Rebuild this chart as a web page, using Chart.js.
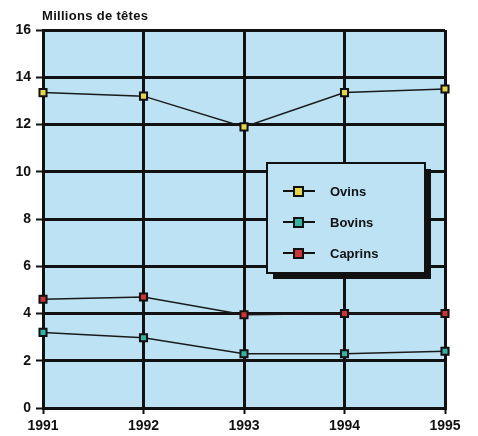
<!DOCTYPE html>
<html>
<head>
<meta charset="utf-8">
<script src="https://cdn.jsdelivr.net/npm/chart.js@4"></script>
<style>
  html, body { margin: 0; padding: 0; background: #fff; }
  #wrap { width: 478px; height: 436px; }
</style>
</head>
<body>
<div id="wrap"><canvas id="c" width="478" height="436"></canvas></div>
<script>
// data
const years = ['1991', '1992', '1993', '1994', '1995'];
const ovins = [13.35, 13.2, 11.9, 13.35, 13.5];
const bovins = [3.2, 2.97, 2.3, 2.3, 2.4];
const caprins = [4.6, 4.7, 3.95, 4.0, 4.0];
const yTicks = [0, 2, 4, 6, 8, 10, 12, 14, 16];

const seriesNames = ['Ovins', 'Bovins', 'Caprins'];
const seriesColors = ['#e6d640', '#35b3a2', '#cf3434'];

const FONT = "'Liberation Sans', Arial, sans-serif";

// plot background
const bgPlugin = {
    id: 'bg',
    beforeDraw(chart) {
        const a = chart.chartArea, ctx = chart.ctx;
        ctx.save();
        ctx.fillStyle = '#bde2f4';
        ctx.fillRect(a.left, a.top, a.right - a.left, a.bottom - a.top);
        ctx.restore();
    }
};

// title + boxed legend with shadow
const legendBox = {
    id: 'legendBox',
    afterDraw(chart) {
        const ctx = chart.ctx;
        ctx.save();
        ctx.fillStyle = '#111';
        ctx.font = 'bold 13px ' + FONT;
        ctx.textBaseline = 'alphabetic';
        ctx.letterSpacing = '0.3px';
        ctx.fillText('Millions de têtes', 42, 20);
        ctx.letterSpacing = '0px';

        const x = 267, y = 163, w = 158, h = 110;
        ctx.fillStyle = '#111';
        ctx.fillRect(x + 6, y + 6, w, h);
        ctx.fillStyle = '#bde2f4';
        ctx.fillRect(x, y, w, h);
        ctx.strokeStyle = '#111';
        ctx.lineWidth = 2;
        ctx.strokeRect(x, y, w, h);

        chart.data.datasets.forEach((ds, i) => {
            const cy = y + 28 + i * 31;
            ctx.strokeStyle = '#111';
            ctx.lineWidth = 2;
            ctx.beginPath();
            ctx.moveTo(x + 16, cy);
            ctx.lineTo(x + 48, cy);
            ctx.stroke();
            ctx.fillStyle = ds.backgroundColor;
            ctx.fillRect(x + 27, cy - 4, 9, 9);
            ctx.strokeRect(x + 27, cy - 4, 9, 9);
            ctx.fillStyle = '#111';
            ctx.font = 'bold 13px ' + FONT;
            ctx.textBaseline = 'middle';
            ctx.fillText(ds.label, x + 63, cy + 1);
        });
        ctx.restore();
    }
};

const makeSet = (i, values) => ({
    label: seriesNames[i],
    data: values,
    borderColor: '#1a1a1a',
    borderWidth: 1.5,
    backgroundColor: seriesColors[i],
    pointStyle: 'rect',
    pointRadius: 5,
    pointBorderColor: '#111',
    pointBorderWidth: 2,
    tension: 0
});

new Chart(document.getElementById('c'), {
    type: 'line',
    data: {
        labels: years,
        datasets: [makeSet(0, ovins), makeSet(1, bovins), makeSet(2, caprins)]
    },
    options: {
        responsive: false,
        animation: false,
        layout: { padding: { top: 30, right: 33, left: 0, bottom: 0 } },
        plugins: {
            legend: { display: false },
            tooltip: { enabled: false }
        },
        scales: {
            x: {
                offset: false,
                afterFit(s) { s.height = 28; },
                grid: { color: '#111', lineWidth: 3, tickLength: 6, tickColor: '#111', tickWidth: 2 },
                border: { color: '#111', width: 3 },
                ticks: { color: '#111', font: { family: FONT, size: 14, weight: 'bold' }, padding: 4, maxRotation: 0 }
            },
            y: {
                min: 0,
                max: 16,
                afterFit(s) { s.width = 43; },
                afterBuildTicks(s) { s.ticks = yTicks.map(v => ({ value: v })); },
                grid: { color: '#111', lineWidth: 3, tickLength: 7, tickColor: '#111', tickWidth: 2 },
                border: { color: '#111', width: 3 },
                ticks: { color: '#111', font: { family: FONT, size: 14, weight: 'bold' }, padding: 5 }
            }
        }
    },
    plugins: [bgPlugin, legendBox]
});
</script>
</body>
</html>
